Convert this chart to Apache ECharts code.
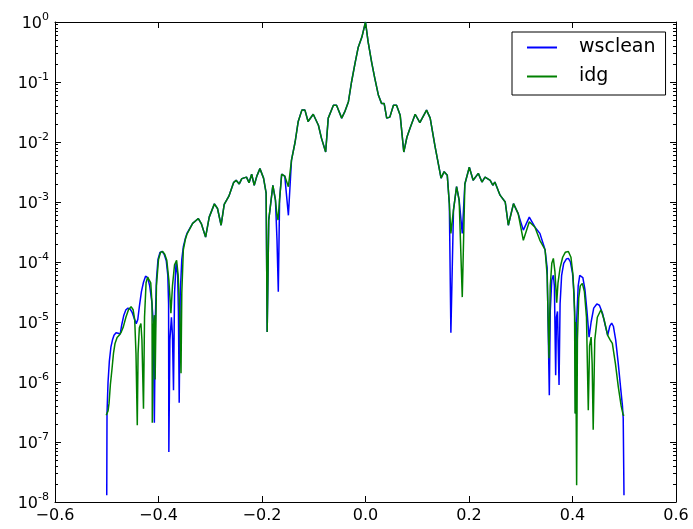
<!DOCTYPE html>
<html>
<head>
<meta charset="utf-8">
<script src="https://cdn.jsdelivr.net/npm/echarts@6/dist/echarts.min.js"></script>
<style>
  html, body { margin: 0; padding: 0; background: #fff; }
  #chart { width: 693px; height: 529px; }
</style>
</head>
<body>
<div id="chart"></div>
<script>
// Beam profile: normalised response against l, for the two imagers.
const seriesNames = ['wsclean', 'idg'];

const wscleanX = [
  -0.500, -0.4995, -0.4975, -0.495, -0.492, -0.489, -0.486, -0.482, -0.478, -0.474,
  -0.471, -0.467, -0.463, -0.459, -0.455, -0.451, -0.447, -0.443, -0.440, -0.437,
  -0.433, -0.429, -0.425, -0.421, -0.417, -0.413, -0.410, -0.408, -0.406, -0.404,
  -0.401, -0.397, -0.393, -0.389, -0.385, -0.382, -0.3805, -0.380, -0.378, -0.375,
  -0.373, -0.371, -0.369, -0.366, -0.363, -0.3615, -0.360, -0.358, -0.355, -0.352,
  -0.348, -0.345, -0.334, -0.323, -0.317, -0.309, -0.302, -0.292,
  -0.286, -0.279, -0.273, -0.264, -0.255, -0.250, -0.244, -0.239, -0.230, -0.225,
  -0.220, -0.215, -0.210, -0.204, -0.197, -0.192, -0.190, -0.187, -0.179, -0.174,
  -0.171, -0.1685, -0.166, -0.162, -0.156, -0.149, -0.143, -0.136, -0.130, -0.123,
  -0.117, -0.111, -0.101, -0.091, -0.085, -0.077, -0.072, -0.062, -0.056, -0.046,
  -0.040, -0.033, -0.027, -0.020, -0.014, -0.007, 0.000, 0.005, 0.012, 0.018,
  0.025, 0.031, 0.036, 0.041, 0.047, 0.054, 0.060, 0.067, 0.074, 0.080,
  0.086, 0.096, 0.105, 0.118, 0.125, 0.134, 0.146, 0.152, 0.158, 0.162,
  0.165, 0.170, 0.176, 0.181, 0.187, 0.192, 0.2006, 0.208, 0.218, 0.225,
  0.231, 0.241, 0.246, 0.250, 0.260, 0.270, 0.276, 0.286, 0.295, 0.305,
  0.3165, 0.3275, 0.337, 0.347, 0.351, 0.3552, 0.357, 0.360, 0.363, 0.365,
  0.3675, 0.369, 0.371, 0.374, 0.376, 0.379, 0.383, 0.388, 0.392, 0.396,
  0.400, 0.403, 0.405, 0.406, 0.408, 0.411, 0.414, 0.4165, 0.420, 0.424,
  0.428, 0.432, 0.436, 0.441, 0.447, 0.452, 0.458, 0.463, 0.468, 0.472,
  0.4757, 0.479, 0.4835, 0.4885, 0.493, 0.4965, 0.498, 0.4995
];
const wscleanY = [
  1.3e-8, 3e-7, 1.0e-6, 2.2e-6, 3.8e-6, 5e-6, 6e-6, 6.6e-6, 6.5e-6, 6.3e-6,
  9e-6, 1.3e-5, 1.6e-5, 1.7e-5, 1.65e-5, 1.45e-5, 1.15e-5, 9.4e-6, 1.1e-5, 1.8e-5,
  3.2e-5, 4.6e-5, 5.8e-5, 5.5e-5, 4e-5, 2.2e-5, 1.0e-5, 2.1e-7, 1.2e-5, 5e-5,
  1.1e-4, 1.45e-4, 1.5e-4, 1.35e-4, 1.05e-4, 6e-5, 2e-5, 6.8e-8, 5e-6, 1.2e-5,
  6e-6, 7.3e-7, 3e-5, 1.0e-4, 6e-5, 1.5e-5, 4.5e-7, 3e-5, 1.1e-4, 1.8e-4,
  2.5e-4, 3.0e-4, 4.4e-4, 5.3e-4, 4.3e-4, 2.6e-4, 5.6e-4, 9.3e-4,
  7.8e-4, 4.1e-4, 9.1e-4, 1.25e-3, 2.1e-3, 2.3e-3, 2.0e-3, 2.45e-3, 2.6e-3, 2.1e-3,
  2.9e-3, 1.9e-3, 2.7e-3, 3.6e-3, 2.5e-3, 1.4e-3, 6.8e-6, 5e-4, 1.9e-3, 1.07e-3,
  2.3e-4, 3.2e-5, 1.1e-3, 2.9e-3, 2.7e-3, 6e-4, 5e-3, 1.0e-2, 2.2e-2, 3.4e-2,
  3.4e-2, 2.2e-2, 2.9e-2, 1.9e-2, 1.15e-2, 6.8e-3, 2.5e-2, 4.1e-2, 4.1e-2, 2.5e-2,
  3.2e-2, 4.7e-2, 0.1, 0.21, 0.38, 0.56, 1.0, 0.47, 0.21, 0.115,
  0.06, 0.044, 0.044, 0.025, 0.026, 0.041, 0.041, 0.028, 6.8e-3, 0.012,
  0.017, 0.029, 0.021, 0.034, 0.025, 8.8e-3, 2.5e-3, 3.2e-3, 2.8e-3, 9.4e-4,
  6.6e-6, 7.3e-4, 1.8e-3, 1.07e-3, 3e-4, 2.0e-3, 3.8e-3, 2.3e-3, 3.0e-3, 2.15e-3,
  2.6e-3, 2.3e-3, 1.9e-3, 2.15e-3, 1.3e-3, 1.0e-3, 4.1e-4, 9.4e-4, 6.4e-4, 3.4e-4,
  5.6e-4, 3.8e-4, 3.0e-4, 1.6e-4, 8e-5, 6e-7, 1.5e-5, 5e-5, 6e-5, 4e-5,
  1.3e-6, 1.2e-5, 1.5e-5, 8.9e-7, 2e-5, 6e-5, 9.5e-5, 1.12e-4, 1.15e-4, 1.0e-4,
  6.5e-5, 3e-5, 8e-6, 3e-7, 1e-5, 4e-5, 6e-5, 6.4e-5, 5.5e-5, 3.5e-5,
  1.5e-5, 5.6e-6, 1.0e-5, 1.7e-5, 2.0e-5, 1.9e-5, 1.4e-5, 9e-6, 6e-6, 8.5e-6,
  9.6e-6, 8.5e-6, 5e-6, 2e-6, 8e-7, 4e-7, 2.5e-7, 1.3e-8
];

const idgX = [
  -0.501, -0.4975, -0.4956, -0.493, -0.490, -0.487, -0.484, -0.480, -0.476, -0.472,
  -0.468, -0.463, -0.458, -0.453, -0.449, -0.446, -0.4435, -0.441, -0.4395, -0.437,
  -0.434, -0.432, -0.429, -0.427, -0.424, -0.421, -0.418, -0.415, -0.4125, -0.412,
  -0.410, -0.408, -0.4065, -0.404, -0.400, -0.396, -0.392, -0.388, -0.384, -0.380,
  -0.376, -0.373, -0.369, -0.365, -0.362, -0.359, -0.3565, -0.355, -0.352, -0.348,
  -0.345, -0.334, -0.323, -0.317, -0.309, -0.302, -0.292,
  -0.286, -0.279, -0.273, -0.264, -0.255, -0.250, -0.244, -0.239, -0.230, -0.225,
  -0.220, -0.215, -0.210, -0.204, -0.197, -0.192, -0.190, -0.187, -0.179, -0.174,
  -0.171, -0.169, -0.166, -0.162, -0.156, -0.149, -0.143, -0.136, -0.130, -0.123,
  -0.117, -0.111, -0.101, -0.091, -0.085, -0.077, -0.072, -0.062, -0.056, -0.046,
  -0.040, -0.033, -0.027, -0.020, -0.014, -0.007, 0.000, 0.005, 0.012, 0.018,
  0.025, 0.031, 0.036, 0.041, 0.047, 0.054, 0.060, 0.067, 0.074, 0.080,
  0.086, 0.096, 0.105, 0.118, 0.125, 0.134, 0.146, 0.152, 0.158, 0.162,
  0.165, 0.170, 0.176, 0.181, 0.187, 0.192, 0.2006, 0.208, 0.218, 0.225,
  0.231, 0.241, 0.246, 0.250, 0.260, 0.270, 0.276, 0.286, 0.295, 0.305,
  0.3165, 0.3275, 0.337, 0.347, 0.351, 0.3546, 0.357, 0.360, 0.363, 0.366,
  0.3695, 0.372, 0.376, 0.381, 0.386, 0.392, 0.397, 0.401, 0.404, 0.405,
  0.406, 0.408, 0.4095, 0.412, 0.415, 0.419, 0.423, 0.427, 0.4305, 0.433,
  0.436, 0.438, 0.440, 0.443, 0.448, 0.455, 0.461, 0.468, 0.473, 0.477,
  0.483, 0.4885, 0.494, 0.498, 0.500
];
const idgY = [
  2.8e-7, 3.3e-7, 4.4e-7, 9e-7, 1.6e-6, 3e-6, 4.4e-6, 5.5e-6, 6e-6, 6.8e-6,
  8.3e-6, 1.2e-5, 1.6e-5, 1.8e-5, 1.6e-5, 1.1e-5, 3e-6, 1.9e-7, 3e-6, 8e-6,
  9.4e-6, 5e-6, 3.6e-7, 1.2e-5, 4.5e-5, 5.6e-5, 5.6e-5, 4.5e-5, 2e-5, 2.1e-7,
  8e-6, 1.3e-5, 1.1e-6, 4e-5, 1.1e-4, 1.45e-4, 1.5e-4, 1.35e-4, 1.07e-4, 5e-5,
  1.4e-5, 4e-5, 9e-5, 1.07e-4, 6e-5, 1.5e-5, 1.4e-6, 3e-5, 1.6e-4, 2.4e-4,
  2.9e-4, 4.4e-4, 5.3e-4, 4.3e-4, 2.6e-4, 5.6e-4, 9.3e-4,
  7.8e-4, 4.1e-4, 9.1e-4, 1.25e-3, 2.1e-3, 2.3e-3, 2.0e-3, 2.45e-3, 2.6e-3, 2.1e-3,
  2.9e-3, 1.9e-3, 2.7e-3, 3.6e-3, 2.5e-3, 1.4e-3, 6.8e-6, 5e-4, 1.9e-3, 1.07e-3,
  6e-4, 5e-4, 1.1e-3, 2.9e-3, 2.7e-3, 1.8e-3, 5e-3, 1.0e-2, 2.2e-2, 3.4e-2,
  3.4e-2, 2.2e-2, 2.9e-2, 1.9e-2, 1.15e-2, 6.8e-3, 2.5e-2, 4.1e-2, 4.1e-2, 2.5e-2,
  3.2e-2, 4.7e-2, 0.1, 0.21, 0.38, 0.56, 1.0, 0.47, 0.21, 0.115,
  0.06, 0.044, 0.044, 0.025, 0.026, 0.041, 0.041, 0.028, 6.8e-3, 0.012,
  0.017, 0.029, 0.021, 0.034, 0.025, 8.8e-3, 2.5e-3, 3.2e-3, 2.8e-3, 9.4e-4,
  3e-4, 7.3e-4, 1.8e-3, 1.07e-3, 2.6e-5, 2.0e-3, 3.8e-3, 2.3e-3, 3.0e-3, 2.15e-3,
  2.6e-3, 2.3e-3, 1.9e-3, 2.15e-3, 1.3e-3, 1.0e-3, 4.1e-4, 9.4e-4, 6.4e-4, 2.3e-4,
  4.7e-4, 3.8e-4, 2.3e-4, 1.6e-4, 6e-5, 2.5e-6, 4e-5, 9.5e-5, 1.15e-4, 7e-5,
  2.1e-5, 4.5e-5, 8e-5, 1.2e-4, 1.45e-4, 1.5e-4, 1.2e-4, 6e-5, 1.5e-5, 3e-7,
  1e-5, 1.9e-8, 5e-6, 2.5e-5, 4e-5, 4.4e-5, 3.2e-5, 1.2e-5, 3.4e-7, 4e-6,
  5.6e-6, 2e-6, 1.6e-7, 5e-6, 1.2e-5, 1.6e-5, 1.1e-5, 6e-6, 5e-6, 4.4e-6,
  2e-6, 8.3e-7, 4e-7, 2.8e-7, 2.8e-7
];

const xTickStep = 0.2;
const xRange = [-0.6, 0.6];
const yRange = [1e-8, 1];

const FONT = 'DejaVu Sans';
const BLACK = '#000000';

// log-axis minor tick positions: 2..9 times each decade
const minorTickValues = [];
for (let e = -8; e < 0; e++) {
  for (let m = 2; m <= 9; m++) minorTickValues.push(m * Math.pow(10, e));
}

const pairs = (xs, ys) => xs.map((x, i) => [x, ys[i]]);

const fmtX = v => (v < -1e-9 ? '\u2212' : '') + Math.abs(v).toFixed(1);
const fmtY = v => {
  const e = Math.round(Math.log10(v));
  return '{b|10}{s|' + (e < 0 ? '-' + (-e) : String(e)) + '}';
};

const frameLine = { show: true, onZero: false, lineStyle: { color: BLACK, width: 1 } };

const xAxisBase = {
  type: 'value', min: xRange[0], max: xRange[1], interval: xTickStep,
  splitLine: { show: false },
  axisLine: frameLine,
  axisTick: { show: true, inside: true, length: 6, lineStyle: { color: BLACK, width: 1 } }
};

const yMajor = (pos, labels) => ({
  type: 'log', logBase: 10, min: yRange[0], max: yRange[1], position: pos,
  splitNumber: 8,
  splitLine: { show: false },
  axisLine: frameLine,
  axisTick: { show: true, inside: true, length: 6, lineStyle: { color: BLACK, width: 1 } },
  axisLabel: labels ? {
    show: true, margin: 6, formatter: fmtY,
    rich: {
      b: { fontFamily: FONT, fontSize: 16, color: BLACK, lineHeight: 20, verticalAlign: 'bottom' },
      s: { fontFamily: FONT, fontSize: 11, color: BLACK, lineHeight: 12, verticalAlign: 'top' }
    }
  } : { show: false }
});

const yMinor = pos => ({
  type: 'log', logBase: 10, min: yRange[0], max: yRange[1], position: pos,
  splitLine: { show: false },
  axisLine: { show: false, onZero: false },
  axisLabel: { show: false },
  axisTick: { show: true, inside: true, length: 3, customValues: minorTickValues,
              lineStyle: { color: BLACK, width: 1 } }
});

const chart = echarts.init(document.getElementById('chart'), null, { renderer: 'canvas' });

chart.setOption({
  animation: false,
  backgroundColor: '#ffffff',
  textStyle: { fontFamily: FONT },
  grid: { left: 55, right: 17, top: 22, bottom: 27, containLabel: false },
  legend: {
    data: seriesNames,
    orient: 'vertical',
    left: 512, top: 32,
    padding: [6, 10, 9, 14],
    itemWidth: 30, itemHeight: 19, itemGap: 10,
    borderColor: BLACK, borderWidth: 1, borderRadius: 0,
    backgroundColor: '#ffffff',
    itemStyle: { opacity: 0 },
    textStyle: { fontFamily: FONT, fontSize: 19, color: BLACK, padding: [0, 0, 0, 17] }
  },
  xAxis: [
    Object.assign({}, xAxisBase, {
      position: 'bottom',
      axisLabel: { show: true, margin: 6, formatter: fmtX,
                   fontFamily: FONT, fontSize: 16, color: BLACK }
    }),
    Object.assign({}, xAxisBase, { position: 'top', axisLabel: { show: false } })
  ],
  yAxis: [yMajor('left', true), yMinor('left'), yMajor('right', false), yMinor('right')],
  series: [
    {
      name: seriesNames[0], type: 'line', xAxisIndex: 0, yAxisIndex: 0,
      data: pairs(wscleanX, wscleanY),
      symbol: 'none', smooth: false,
      lineStyle: { color: '#0000ff', width: 1.5 },
      itemStyle: { color: '#0000ff' }, z: 2
    },
    {
      name: seriesNames[1], type: 'line', xAxisIndex: 0, yAxisIndex: 0,
      data: pairs(idgX, idgY),
      symbol: 'none', smooth: false,
      lineStyle: { color: '#008000', width: 1.5 },
      itemStyle: { color: '#008000' }, z: 3
    }
  ]
});
</script>
</body>
</html>
